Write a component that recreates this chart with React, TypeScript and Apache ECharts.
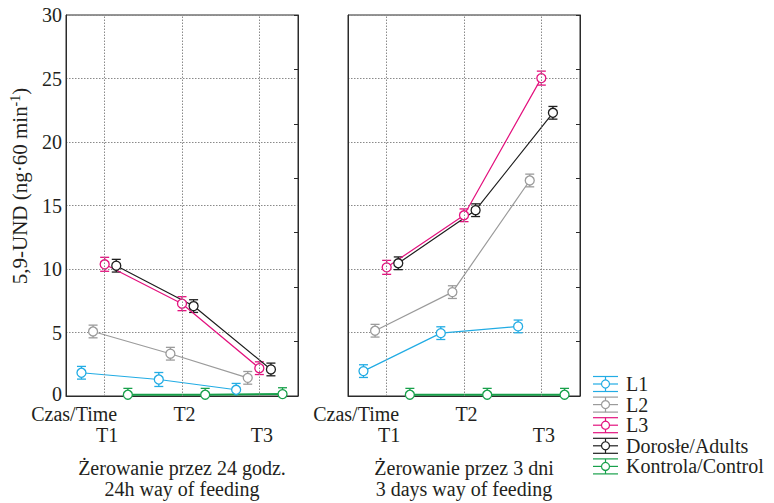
import React, { useEffect, useRef } from "react";
import * as echarts from "echarts";

// ---- data ----
const seriesNames = ["L1", "L2", "L3", "Dorosłe/Adults", "Kontrola/Control"];
const timeLabels = ["T1", "T2", "T3"];
const axisTitle = "Czas/Time";
const panelTitles = [
  ["Żerowanie przez 24 godz.", "24h way of feeding"],
  ["Żerowanie przez 3 dni", "3 days way of feeding"],
];
const yTitleMain = "5,9-UND (ng·60 min";
const yTitleSup = "-1";

// Panel 1: 24h way of feeding
const p1L1 = [1.83, 1.3, 0.49];
const p1L2 = [5.08, 3.33, 1.43];
const p1L3 = [10.37, 7.27, 2.19];
const p1Adults = [10.26, 7.08, 2.09];
const p1Control = [0.1, 0.1, 0.15];
const p1L1Err = [0.5, 0.55, 0.5];
const p1L2Err = [0.5, 0.5, 0.5];
const p1L3Err = [0.55, 0.55, 0.5];
const p1AdultsErr = [0.5, 0.5, 0.5];
const p1ControlErr = [0.5, 0.5, 0.5];

// Panel 2: 3 days way of feeding
const p2L1 = [1.96, 4.95, 5.48];
const p2L2 = [5.14, 8.18, 16.97];
const p2L3 = [10.13, 14.23, 25.03];
const p2Adults = [10.45, 14.63, 22.3];
const p2Control = [0.1, 0.1, 0.1];
const p2L1Err = [0.5, 0.5, 0.5];
const p2L2Err = [0.5, 0.5, 0.5];
const p2L3Err = [0.55, 0.5, 0.55];
const p2AdultsErr = [0.5, 0.5, 0.5];
const p2ControlErr = [0.5, 0.5, 0.5];

const panelValues = [
  [p1L1, p1L2, p1L3, p1Adults, p1Control],
  [p2L1, p2L2, p2L3, p2Adults, p2Control],
];
const panelErrors = [
  [p1L1Err, p1L2Err, p1L3Err, p1AdultsErr, p1ControlErr],
  [p2L1Err, p2L2Err, p2L3Err, p2AdultsErr, p2ControlErr],
];

// ---- styles / layout ----
const colors = ["#22ace4", "#9b9b9b", "#e3127e", "#1e1e1e", "#17a04a"];
const lineWidths = [1.2, 1.2, 1.2, 1.2, 2];
const xOffsets = [-0.3, -0.15, 0, 0.15, 0.3];
const FONT = '"Liberation Serif", "Times New Roman", serif';
const TXT = "#231f20";
const gridLefts = [66, 348];
const GRID_TOP = 15;
const GRID_W = 232;
const GRID_H = 381;

export default function App() {
  const ref = useRef<HTMLDivElement>(null);

  useEffect(() => {
    if (!ref.current) return;
    const chart = echarts.init(ref.current, null, { renderer: "svg" });

    const grids = gridLefts.map((left) => ({
      left,
      top: GRID_TOP,
      width: GRID_W,
      height: GRID_H,
      show: true,
      borderColor: "#2b2b2b",
      borderWidth: 1,
      backgroundColor: "transparent",
    }));

    const xAxes = gridLefts.map((_, p) => ({
      type: "value",
      gridIndex: p,
      min: 0.5,
      max: 3.5,
      axisLine: { show: true, onZero: false, lineStyle: { color: "#2b2b2b" } },
      axisTick: { show: false },
      axisLabel: { show: false },
      splitLine: { show: false },
    }));

    const yAxes: any[] = [];
    gridLefts.forEach((_, p) => {
      yAxes.push({
        type: "value",
        gridIndex: p,
        min: 0,
        max: 30,
        interval: 5,
        position: "left",
        axisLine: { show: true, lineStyle: { color: "#2b2b2b" } },
        axisTick: { show: false },
        axisLabel: {
          show: p === 0,
          fontFamily: FONT,
          fontSize: 20,
          lineHeight: 17,
          color: TXT,
          margin: 4,
          formatter: (v: number) => (v === 0 ? "{z|0}" : String(v)),
          rich: {
            z: {
              fontFamily: FONT,
              fontSize: 20,
              lineHeight: 16,
              color: TXT,
              padding: [0, 0, 5, 0],
            },
          },
        },
        splitLine: {
          show: true,
          lineStyle: { color: "#8a8a8a", type: [1.5, 1.5], width: 1 },
        },
      });
      yAxes.push({
        type: "value",
        gridIndex: p,
        min: 0,
        max: 30,
        interval: 30 / 7,
        position: "right",
        axisLine: { show: true, onZero: false, lineStyle: { color: "#2b2b2b" } },
        axisTick: { show: true, inside: true, length: 4, lineStyle: { color: "#2b2b2b", width: 1 } },
        axisLabel: { show: false },
        splitLine: { show: false },
      });
    });

    const series: any[] = [];
    gridLefts.forEach((_, p) => {
      // vertical dotted gridlines at T1..T3
      series.push({
        type: "line",
        xAxisIndex: p,
        yAxisIndex: p * 2,
        data: [],
        z: 1,
        silent: true,
        markLine: {
          silent: true,
          symbol: "none",
          label: { show: false },
          lineStyle: { color: "#8a8a8a", type: [1.5, 1.5], width: 1 },
          data: timeLabels.map((_, i) => ({ xAxis: i + 1 })),
        },
      });
      seriesNames.forEach((name, g) => {
        const vals = panelValues[p][g];
        const errs = panelErrors[p][g];
        const color = colors[g];
        series.push({
          type: "custom",
          name: name + " err",
          xAxisIndex: p,
          yAxisIndex: p * 2,
          z: 2,
          silent: true,
          data: vals.map((v, i) => [i + 1 + xOffsets[g], v - errs[i], v + errs[i]]),
          renderItem: (params: any, api: any) => {
            const x = api.value(0);
            const lo = api.value(1);
            const hi = api.value(2);
            const clipped = lo < 0;
            const pLo = api.coord([x, Math.max(0, lo)]);
            const pHi = api.coord([x, hi]);
            const w = 4.5;
            const style = { stroke: color, lineWidth: 1.3, fill: "none" };
            const children: any[] = [
              { type: "line", shape: { x1: pLo[0], y1: pLo[1], x2: pHi[0], y2: pHi[1] }, style },
              { type: "line", shape: { x1: pHi[0] - w, y1: pHi[1], x2: pHi[0] + w, y2: pHi[1] }, style },
            ];
            if (!clipped) {
              children.push({
                type: "line",
                shape: { x1: pLo[0] - w, y1: pLo[1], x2: pLo[0] + w, y2: pLo[1] },
                style,
              });
            }
            return { type: "group", children };
          },
        });
        series.push({
          type: "line",
          name,
          xAxisIndex: p,
          yAxisIndex: p * 2,
          z: 3,
          data: vals.map((v, i) => [i + 1 + xOffsets[g], v]),
          symbol: "circle",
          symbolSize: 9,
          showSymbol: true,
          lineStyle: { color, width: lineWidths[g] },
          itemStyle: { color: "#ffffff", borderColor: color, borderWidth: 1.3 },
        });
      });
    });

    const graphic: any[] = [];
    const band = GRID_W / 3;
    const tf = (x: number, y: number, text: string, align = "center", lh = 20) => ({
      type: "text",
      x,
      y,
      silent: true,
      style: {
        text,
        fontFamily: FONT,
        fontSize: 20,
        lineHeight: lh,
        fill: TXT,
        textAlign: align,
        align,
        textVerticalAlign: "middle",
        verticalAlign: "middle",
      },
    });
    gridLefts.forEach((left, p) => {
      const centers = timeLabels.map((_, i) => left + (i + 0.5) * band + 2.5);
      graphic.push(tf(centers[0] + 10, 414, axisTitle, "right", 17));
      timeLabels.forEach((t, i) => {
        graphic.push(tf(centers[i], i % 2 === 0 ? 434.5 : 414, t, "center", 17));
      });
      const cx = left + GRID_W / 2;
      graphic.push(tf(cx, 468, panelTitles[p][0], "center", 19));
      graphic.push(tf(cx, 489, panelTitles[p][1], "center", 19));
    });

    // y axis title
    graphic.push({
      type: "text",
      x: 20,
      y: 186,
      rotation: Math.PI / 2,
      silent: true,
      style: {
        text: "{a|" + yTitleMain + "}{s|" + yTitleSup + "}{a|)}",
        textAlign: "center",
        align: "center",
        textVerticalAlign: "middle",
        verticalAlign: "middle",
        rich: {
          a: { fontFamily: FONT, fontSize: 21, fill: TXT, color: TXT, lineHeight: 24 },
          s: {
            fontFamily: FONT,
            fontSize: 14,
            fill: TXT,
            color: TXT,
            lineHeight: 24,
            verticalAlign: "top",
          },
        },
      },
    });

    // legend
    const lx0 = 593;
    const lx1 = 618;
    const lcx = (lx0 + lx1) / 2;
    seriesNames.forEach((name, g) => {
      const y = 384 + g * 20.6;
      const c = colors[g];
      const st = { stroke: c, lineWidth: 1.2, fill: "none" };
      graphic.push({ type: "line", silent: true, shape: { x1: lx0, y1: y - 7.5, x2: lx1, y2: y - 7.5 }, style: st });
      graphic.push({ type: "line", silent: true, shape: { x1: lx0, y1: y, x2: lx1, y2: y }, style: st });
      graphic.push({ type: "line", silent: true, shape: { x1: lx0, y1: y + 7.5, x2: lx1, y2: y + 7.5 }, style: st });
      graphic.push({ type: "line", silent: true, shape: { x1: lcx, y1: y - 7.5, x2: lcx, y2: y + 7.5 }, style: st });
      graphic.push({
        type: "circle",
        silent: true,
        shape: { cx: lcx, cy: y, r: 4 },
        style: { fill: "#ffffff", stroke: c, lineWidth: 1.2 },
      });
      graphic.push(tf(626, y, name, "left", 19));
    });

    chart.setOption({
      animation: false,
      backgroundColor: "#ffffff",
      grid: grids,
      xAxis: xAxes,
      yAxis: yAxes,
      series,
      graphic,
    });

    return () => chart.dispose();
  }, []);

  return (
    <div
      ref={ref}
      style={{ position: "fixed", left: 0, top: 0, width: 774, height: 503, background: "#fff" }}
    />
  );
}
